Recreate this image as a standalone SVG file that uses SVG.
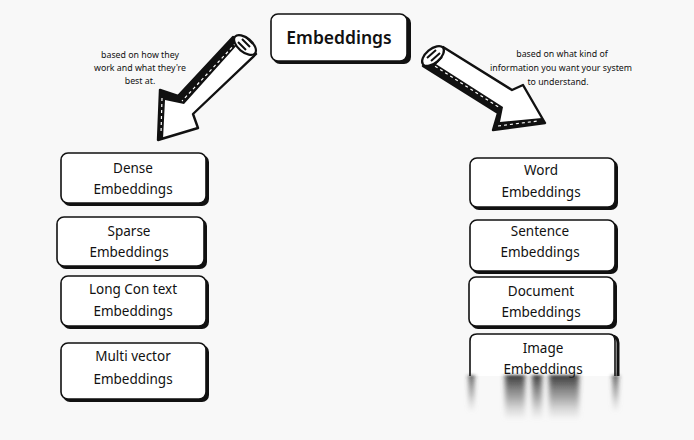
<svg xmlns="http://www.w3.org/2000/svg" width="694" height="440" viewBox="0 0 694 440">
<defs>
<style>
.bx{fill:#fff;stroke:#111;stroke-width:1.6}
.sh{fill:#111}
.lb{font-family:"Noto Sans","DejaVu Sans",sans-serif;font-size:13.5px;fill:#111;text-anchor:middle}
.tt{font-family:"Noto Sans","DejaVu Sans",sans-serif;font-size:17.5px;font-weight:600;fill:#111;text-anchor:middle}
.an{font-family:"Noto Sans","DejaVu Sans",sans-serif;font-size:8.8px;fill:#111;text-anchor:middle}
.ar{fill:#fff;stroke:#111;stroke-width:2.4;stroke-linejoin:round}
.hatch{stroke:#111;stroke-width:2}
.wd{stroke:#fff;stroke-width:1.2;stroke-dasharray:3 3}
</style>
<linearGradient id="smear" x1="0" y1="0" x2="0" y2="1">
<stop offset="0" stop-color="#222" stop-opacity="0.9"/>
<stop offset="0.5" stop-color="#666" stop-opacity="0.55"/>
<stop offset="1" stop-color="#aaa" stop-opacity="0"/>
</linearGradient>
<filter id="blur" x="-50%" y="-10%" width="200%" height="120%">
<feGaussianBlur stdDeviation="2.5 1.5"/>
</filter>
</defs>
<rect width="694" height="440" fill="#f8f8f8"/>

<g id="connectors">
<g id="arrow-left">
<path class="ar" d="M233,37 L178,96 L160,90 L158,140 L198,128 L193,114 L256,54 Z"/>
<path d="M233,37 L178,96 L160,90 L158,140 L163,139 L165,100 L184,104 L238,44 Z" fill="#111"/>
<path class="wd" d="M236,43 L182,101 M162,98 L161,134"/>
<ellipse cx="245" cy="45" rx="7" ry="13" transform="rotate(-50 245 45)" fill="#fff" stroke="#111" stroke-width="2.2"/>
<path class="hatch" d="M238,42 L246,50 M242,39 L250,47 M246,37 L253,44"/>
</g>
<g id="arrow-right">
<path class="ar" d="M443,47 L512,90 L523,85 L545,123 L493,130 L498,113 L423,66 Z"/>
<path d="M423,66 L498,113 L493,130 L545,123 L542,118 L500,122 L503,107 L428,59 Z" fill="#111"/>
<path class="wd" d="M430,63 L500,108 M498,126 L538,121"/>
<ellipse cx="433" cy="56" rx="7" ry="13" transform="rotate(50 433 56)" fill="#fff" stroke="#111" stroke-width="2.2"/>
<path class="hatch" d="M427,58 L436,50 M431,61 L440,53 M435,64 L442,57"/>
</g>
</g>

<g id="n-root">
<rect class="sh" x="273" y="16" width="138" height="48" rx="7"/>
<rect class="bx" x="271" y="14" width="136" height="47" rx="7"/>
<text class="tt" x="339" y="44">Embeddings</text>
</g>

<g id="ann-left">
<text class="an" x="140" y="58">based on how they</text>
<text class="an" x="140" y="71">work and what they're</text>
<text class="an" x="140" y="84">best at.</text>
</g>
<g id="ann-right">
<text class="an" x="562" y="57">based on what kind of</text>
<text class="an" x="561" y="71">information you want your system</text>
<text class="an" x="558" y="85">to understand.</text>
</g>

<g id="n-dense">
<rect class="sh" x="63" y="155" width="146" height="51" rx="7"/>
<rect class="bx" x="61" y="153" width="145" height="50" rx="7"/>
<text class="lb" x="133" y="173">Dense</text>
<text class="lb" x="133" y="194">Embeddings</text>
</g>
<g id="n-sparse">
<rect class="sh" x="59" y="219" width="148" height="50" rx="7"/>
<rect class="bx" x="57" y="217" width="147" height="49" rx="7"/>
<text class="lb" x="129" y="236">Sparse</text>
<text class="lb" x="129" y="257">Embeddings</text>
</g>
<g id="n-long">
<rect class="sh" x="63" y="278" width="146" height="51" rx="7"/>
<rect class="bx" x="61" y="276" width="145" height="50" rx="7"/>
<text class="lb" x="133" y="294">Long Con text</text>
<text class="lb" x="133" y="316">Embeddings</text>
</g>
<g id="n-multi">
<rect class="sh" x="63" y="345" width="146" height="57" rx="7"/>
<rect class="bx" x="61" y="343" width="145" height="56" rx="7"/>
<text class="lb" x="133" y="361">Multi vector</text>
<text class="lb" x="133" y="384">Embeddings</text>
</g>

<g id="n-word">
<rect class="sh" x="472" y="160" width="146" height="50" rx="7"/>
<rect class="bx" x="470" y="158" width="145" height="49" rx="7"/>
<text class="lb" x="541" y="175">Word</text>
<text class="lb" x="541" y="197">Embeddings</text>
</g>
<g id="n-sentence">
<rect class="sh" x="472" y="222" width="146" height="52" rx="7"/>
<rect class="bx" x="470" y="220" width="145" height="51" rx="7"/>
<text class="lb" x="540" y="236">Sentence</text>
<text class="lb" x="540" y="257">Embeddings</text>
</g>
<g id="n-document">
<rect class="sh" x="471" y="279" width="146" height="50" rx="7"/>
<rect class="bx" x="469" y="277" width="145" height="49" rx="7"/>
<text class="lb" x="541" y="296">Document</text>
<text class="lb" x="541" y="317">Embeddings</text>
</g>
<g id="n-image">
<path d="M472,376 L472,341 Q472,336 477,336 L611,336 Q618,336 618,343 L618,376" fill="none" stroke="#111" stroke-width="3"/>
<path d="M470,376 L470,341 Q470,334 477,334 L609,334 Q615,334 615,341 L615,376 Z" fill="#fff"/>
<path d="M470,376 L470,341 Q470,334 477,334 L609,334 Q615,334 615,341 L615,376" fill="none" stroke="#111" stroke-width="1.6"/>
<text class="lb" x="543" y="353">Image</text>
<text class="lb" x="543" y="374">Embeddings</text>
<g filter="url(#blur)">
<rect x="469" y="375" width="5" height="38" fill="url(#smear)"/>
<rect x="505" y="375" width="20" height="46" fill="url(#smear)"/>
<rect x="532" y="375" width="10" height="46" fill="url(#smear)"/>
<rect x="549" y="375" width="30" height="46" fill="url(#smear)"/>
<rect x="613" y="375" width="5" height="38" fill="url(#smear)"/>
</g>
</g>
</svg>
